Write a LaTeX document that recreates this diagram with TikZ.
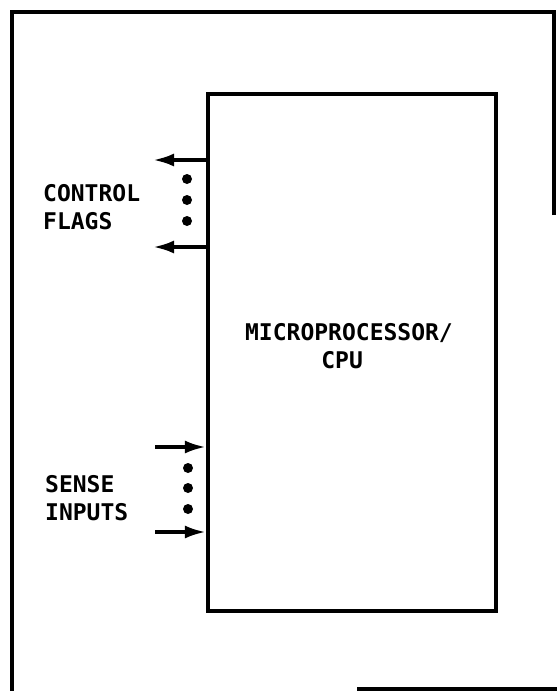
\documentclass[tikz,border=0pt]{standalone}
\usepackage{fontspec}
\newfontfamily\labelfont{DejaVu Sans Mono Bold}
\usetikzlibrary{arrows.meta,calc}
\tikzset{
  cpubox/.style={draw,line width=4.2pt,minimum width=288pt,minimum height=517pt,inner sep=0pt},
  labeltext/.style={font=\labelfont\fontsize{23}{28}\selectfont,align=left,inner sep=0pt,anchor=west},
  sigline/.style={-{Latex[length=21pt,width=13pt]},line width=3.6pt},
  framerule/.style={line width=3.6pt},
  bulletdot/.style={circle,fill,inner sep=0pt,minimum size=10pt}
}
\begin{document}
\begin{tikzpicture}[x=1pt,y=-1pt]
  \useasboundingbox (0,0) rectangle (557,691);
  % outer frame (as far as it shows)
  \draw[framerule] (554,215) -- (554,12) -- (12,12) -- (12,691);
  \draw[framerule] (357,689) -- (557,689);

  \node[cpubox] (cpu) at (352,352.5) {};
  \node[labeltext,align=center,anchor=center] (cpulabel) at (349,346) {MICROPROCESSOR/\\CPU\hphantom{/}};

  \node[labeltext] (flags) at (43,207.5) {CONTROL\\FLAGS};
  \node[labeltext] (sense) at (45,498) {SENSE\\INPUTS};

  \coordinate (flagA) at (153,160);
  \coordinate (flagB) at (153,247);
  \coordinate (senseA) at (155,447);
  \coordinate (senseB) at (155,532);

  \draw[sigline] (cpu.west |- flagA) -- (flagA);
  \draw[sigline] (cpu.west |- flagB) -- (flagB);
  \draw[sigline] (senseA) -- (senseA -| cpu.west);
  \draw[sigline] (senseB) -- (senseB -| cpu.west);

  \foreach \y [count=\i] in {179,200,221}
    \node[bulletdot] (fdot\i) at (187,\y) {};
  \foreach \y [count=\i] in {468,488,509}
    \node[bulletdot] (sdot\i) at (188,\y) {};
\end{tikzpicture}
\end{document}
